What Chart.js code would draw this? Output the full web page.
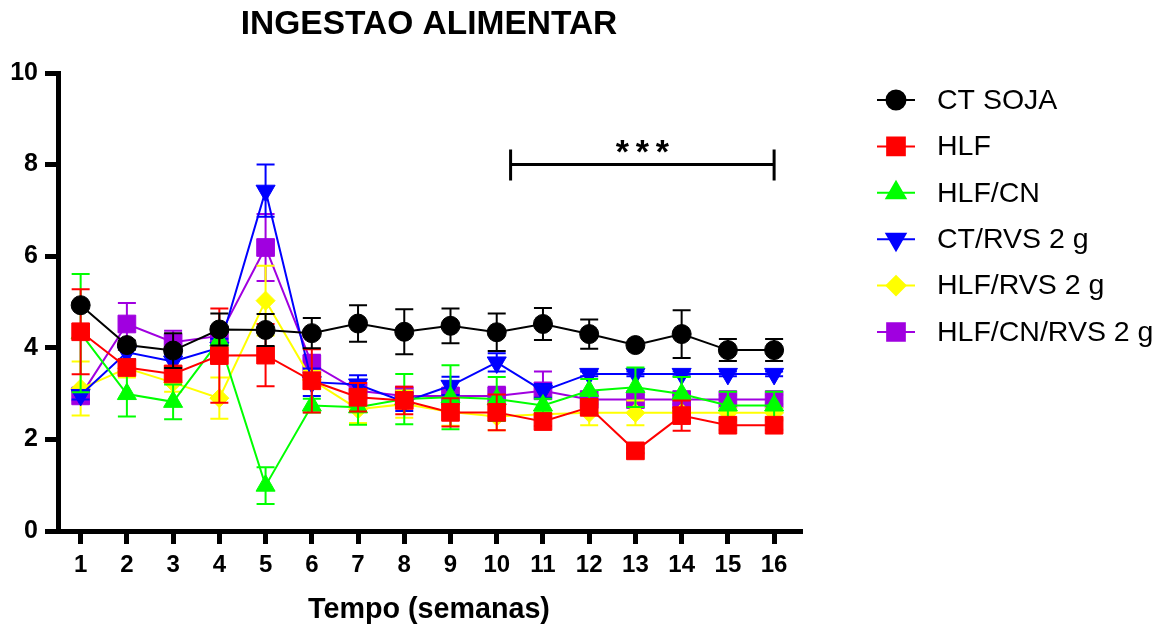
<!DOCTYPE html>
<html lang="pt">
<head>
<meta charset="UTF-8" />
<title>Ingestao alimentar</title>
<script src="https://cdn.jsdelivr.net/npm/chart.js"></script>
<style>
  html, body { margin: 0; padding: 0; background: #fff; }
  #wrap { width: 1163px; height: 631px; }
</style>
</head>
<body>
<div id="wrap"><canvas id="grafico" width="1163" height="631"></canvas></div>
<script>
// semanas e médias (± EPM) de cada grupo
const semanas = [1, 2, 3, 4, 5, 6, 7, 8, 9, 10, 11, 12, 13, 14, 15, 16];
const yTicks = [0, 2, 4, 6, 8, 10];

const ctSoja    = [4.93, 4.06, 3.94, 4.40, 4.39, 4.32, 4.53, 4.35, 4.48, 4.34, 4.52, 4.30, 4.06, 4.30, 3.95, 3.95];
const ctSojaErr = [0.00, 0.10, 0.38, 0.35, 0.35, 0.33, 0.40, 0.49, 0.38, 0.41, 0.35, 0.32, 0.00, 0.52, 0.24, 0.24];

const hlf    = [4.35, 3.57, 3.43, 3.83, 3.84, 3.28, 2.92, 2.85, 2.59, 2.59, 2.39, 2.70, 1.75, 2.52, 2.31, 2.31];
const hlfErr = [0.93, 0.15, 0.15, 1.03, 0.68, 0.69, 0.31, 0.30, 0.31, 0.39, 0.10, 0.15, 0.05, 0.33, 0.10, 0.10];

const hlfCn    = [4.32, 2.99, 2.82, 4.16, 0.99, 2.74, 2.70, 2.88, 2.92, 2.88, 2.74, 3.06, 3.14, 2.99, 2.74, 2.74];
const hlfCnErr = [1.29, 0.49, 0.38, 0.20, 0.40, 0.15, 0.38, 0.55, 0.70, 0.48, 0.15, 0.26, 0.43, 0.37, 0.30, 0.30];

const ctRvs    = [2.97, 3.90, 3.70, 4.00, 7.43, 3.25, 3.20, 2.82, 3.17, 3.68, 3.06, 3.43, 3.43, 3.43, 3.43, 3.43];
const ctRvsErr = [0.10, 0.15, 0.15, 0.20, 0.57, 0.30, 0.20, 0.20, 0.20, 0.20, 0.15, 0.05, 0.05, 0.05, 0.05, 0.05];

const hlfRvs    = [3.11, 3.55, 3.24, 2.90, 5.03, 3.30, 2.66, 2.77, 2.60, 2.50, 2.55, 2.58, 2.58, 2.58, 2.58, 2.58];
const hlfRvsErr = [0.59, 0.20, 0.20, 0.45, 0.76, 0.20, 0.30, 0.30, 0.30, 0.30, 0.10, 0.27, 0.27, 0.10, 0.10, 0.10];

const hlfCnRvs    = [2.95, 4.52, 4.12, 4.26, 6.19, 3.65, 3.06, 2.95, 2.95, 2.95, 3.06, 2.87, 2.87, 2.87, 2.87, 2.87];
const hlfCnRvsErr = [0.10, 0.46, 0.25, 0.20, 0.73, 0.20, 0.15, 0.20, 0.15, 0.20, 0.42, 0.10, 0.10, 0.10, 0.10, 0.10];

// intervalo marcado com *** (semana 10 a 16, na altura y = 8)
const sigInicio = 10.3, sigFim = 16, sigY = 8, sigTexto = '***';

const FONTE = 'Arial, "Liberation Sans", sans-serif';

function serie(label, vals, errs, cor, estilo, raio, rot) {
  return {
    label: label,
    data: semanas.map((s, i) => ({ x: s, y: vals[i] })),
    errors: errs,
    borderColor: cor,
    backgroundColor: cor,
    borderWidth: 2,
    pointStyle: estilo,
    pointRadius: raio,
    pointHoverRadius: raio,
    pointRotation: rot || 0,
    pointBorderWidth: 1,
    tension: 0
  };
}

const datasets = [
  serie('CT SOJA', ctSoja, ctSojaErr, '#000000', 'circle', 9.5),
  serie('HLF', hlf, hlfErr, '#ff0000', 'rect', 12.5),
  serie('HLF/CN', hlfCn, hlfCnErr, '#00ff00', 'triangle', 11),
  serie('CT/RVS 2 g', ctRvs, ctRvsErr, '#0000ff', 'triangle', 11, 180),
  serie('HLF/RVS 2 g', hlfRvs, hlfRvsErr, '#ffff00', 'rectRot', 9.5),
  serie('HLF/CN/RVS 2 g', hlfCnRvs, hlfCnRvsErr, '#a000e0', 'rect', 12.5)
];

// barras de erro, título, legenda e marcação de significância
const extras = {
  id: 'extras',
  beforeDatasetDraw(chart, args) {
    const ds = chart.data.datasets[args.index];
    const ys = chart.scales.y;
    const c = chart.ctx;
    c.save();
    c.strokeStyle = ds.borderColor;
    c.lineWidth = 2;
    args.meta.data.forEach((pt, i) => {
      const e = ds.errors[i];
      if (!e) return;
      const v = ds.data[i].y;
      const yTop = ys.getPixelForValue(v + e);
      const yBot = ys.getPixelForValue(v - e);
      c.beginPath();
      c.moveTo(pt.x, yTop); c.lineTo(pt.x, yBot);
      c.moveTo(pt.x - 9, yTop); c.lineTo(pt.x + 9, yTop);
      c.moveTo(pt.x - 9, yBot); c.lineTo(pt.x + 9, yBot);
      c.stroke();
    });
    c.restore();
  },
  afterDraw(chart) {
    const c = chart.ctx;
    const xs = chart.scales.x, ys = chart.scales.y;
    c.save();

    // título
    c.fillStyle = '#000';
    c.font = 'bold 33.5px ' + FONTE;
    c.textAlign = 'center';
    c.textBaseline = 'middle';
    c.fillText('INGESTAO ALIMENTAR', 429, 25);

    // significância
    const x1 = xs.getPixelForValue(sigInicio), x2 = xs.getPixelForValue(sigFim);
    const yb = ys.getPixelForValue(sigY);
    c.strokeStyle = '#000';
    c.lineWidth = 3;
    c.beginPath();
    c.moveTo(x1, yb); c.lineTo(x2, yb);
    c.moveTo(x1, yb - 15); c.lineTo(x1, yb + 16);
    c.moveTo(x2, yb - 15); c.lineTo(x2, yb + 16);
    c.stroke();
    c.font = 'bold 34px ' + FONTE;
    const xm = (x1 + x2) / 2;
    for (let k = 0; k < sigTexto.length; k++) {
      c.fillText(sigTexto[k], xm + (k - 1) * 20, yb - 11);
    }

    // legenda
    const lx = 896, ly0 = 100, passo = 46.4;
    chart.data.datasets.forEach((ds, i) => {
      const y = ly0 + i * passo;
      c.strokeStyle = ds.borderColor;
      c.lineWidth = 2;
      c.beginPath();
      c.moveTo(lx - 19, y); c.lineTo(lx + 19, y);
      c.stroke();
      Chart.helpers.drawPoint(c, {
        pointStyle: ds.pointStyle,
        rotation: ds.pointRotation,
        radius: ds.pointRadius,
        borderWidth: 1
      }, lx, y);
      c.fillStyle = ds.borderColor;
      c.fill();
      c.fillStyle = '#000';
      c.font = '28.5px ' + FONTE;
      c.textAlign = 'left';
      c.fillText(ds.label, 937, y + 1);
    });
    c.restore();
  }
};

new Chart(document.getElementById('grafico'), {
  type: 'line',
  data: { datasets: datasets },
  plugins: [extras],
  options: {
    responsive: false,
    animation: false,
    layout: { padding: { top: 73, right: 363, bottom: 0, left: 0 } },
    plugins: { legend: { display: false }, title: { display: false }, tooltip: { enabled: false } },
    scales: {
      x: {
        type: 'linear',
        min: 0.51,
        max: 16.56,
        afterBuildTicks: s => { s.ticks = semanas.map(v => ({ value: v })); },
        afterFit: s => { s.height = 100; },
        border: { color: '#000', width: 5 },
        grid: { drawOnChartArea: false, drawTicks: true, tickLength: 13, lineWidth: 5, color: '#000' },
        ticks: { color: '#000', font: { family: FONTE, size: 24, weight: 'bold' }, padding: 7, maxRotation: 0, autoSkip: false },
        title: { display: true, text: 'Tempo (semanas)', color: '#000', font: { family: FONTE, size: 28.7, weight: 'bold' }, padding: { top: 16 } }
      },
      y: {
        min: 0,
        max: 10,
        afterBuildTicks: s => { s.ticks = yTicks.map(v => ({ value: v })); },
        afterFit: s => { s.width = 58; },
        border: { color: '#000', width: 5 },
        grid: { drawOnChartArea: false, drawTicks: true, tickLength: 13, lineWidth: 5, color: '#000' },
        ticks: { color: '#000', font: { family: FONTE, size: 25, weight: 'bold' }, padding: 7 }
      }
    }
  }
});
</script>
</body>
</html>
